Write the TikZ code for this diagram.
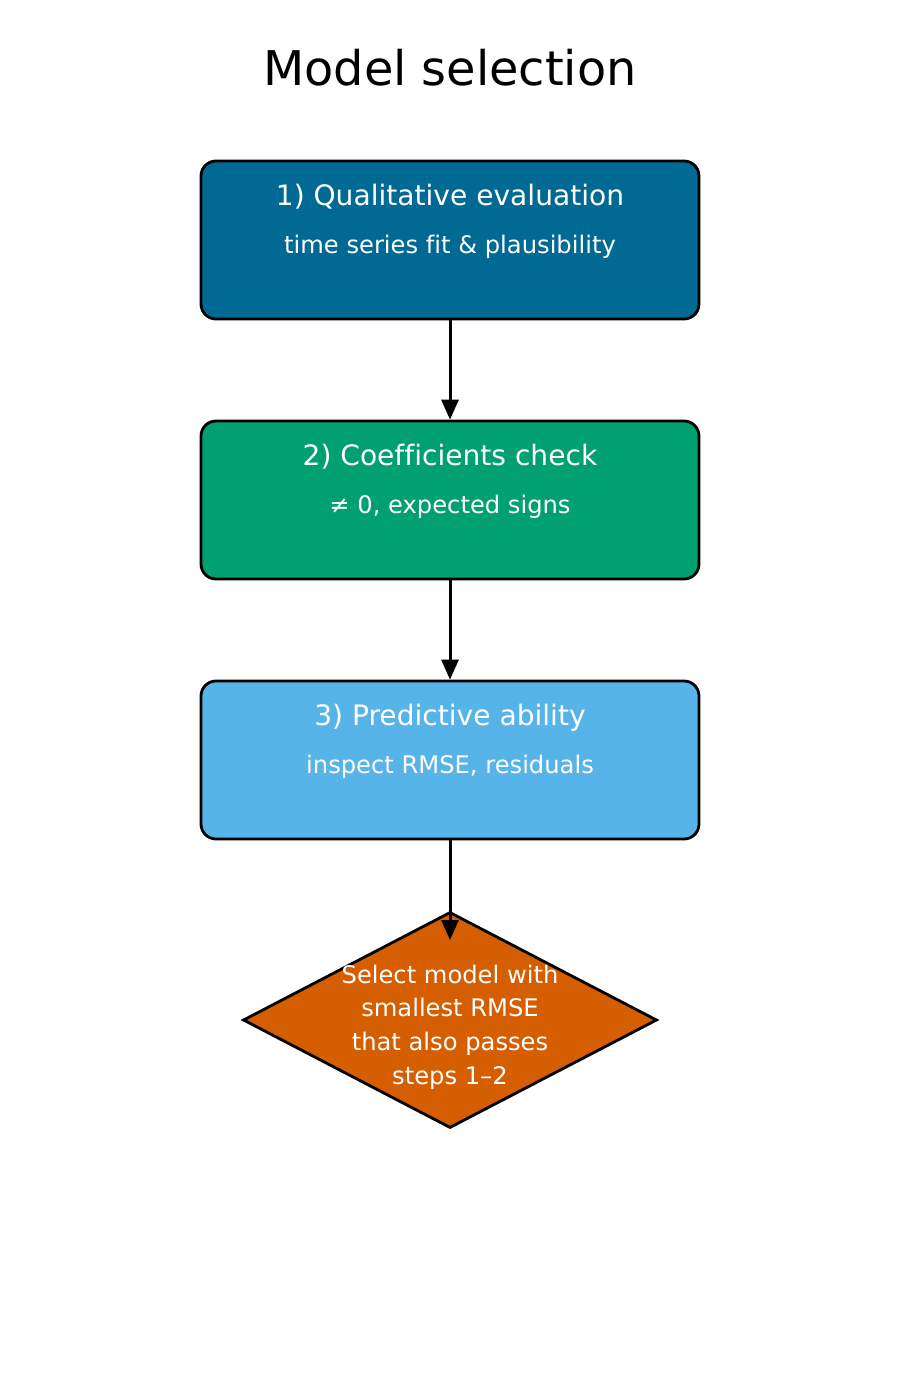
\documentclass[tikz,border=0pt]{standalone}
\usepackage{fontspec}
\setmainfont{DejaVu Sans}[Ligatures=CommonOff]
\usetikzlibrary{arrows.meta,shapes.geometric}
\definecolor{cA}{HTML}{006A95}
\definecolor{cB}{HTML}{00A070}
\definecolor{cC}{HTML}{56B4E9}
\definecolor{cD}{HTML}{D55E00}
\begin{document}
\begin{tikzpicture}[x=1pt,y=-1pt,
  stepbox/.style={draw=black,line width=2.8pt,rounded corners=15pt,minimum width=498pt,minimum height=158pt,inner sep=0pt},
  ttl/.style={text=white,font=\fontsize{28.1}{34}\selectfont,anchor=base,inner sep=0pt},
  sub/.style={text=white,font=\fontsize{24.2}{29}\selectfont,anchor=base,inner sep=0pt},
  conn/.style={line width=3pt,-{Triangle[length=20pt,width=17pt]}}]
\useasboundingbox (0,0) rectangle (900,1400);
\node[font=\fontsize{47.8}{56}\selectfont,anchor=base,inner sep=0pt] (title) at (450,85) {Model selection};

\node[stepbox,fill=cA] (b1) at (450,240) {};
\node[ttl] (t1) at (450,205.7) {1) Qualitative evaluation};
\node[sub] (s1) at (450,253) {time series fit \& plausibility};

\node[stepbox,fill=cB] (b2) at (450,500) {};
\node[ttl] (t2) at (450,465.7) {2) Coefficients check};
\node[sub] (s2) at (450,513) {≠ 0, expected signs};

\node[stepbox,fill=cC] (b3) at (450,760) {};
\node[ttl] (t3) at (450,725.7) {3) Predictive ability};
\node[sub] (s3) at (450,773) {inspect RMSE, residuals};

\node[diamond,draw=black,fill=cD,line width=2.8pt,minimum width=414pt,minimum height=216pt,inner sep=0pt] (dia) at (450,1020) {};
\node[sub] (d1) at (450,983.3) {Select model with};
\node[sub] (d2) at (450,1016.9) {smallest RMSE};
\node[sub] (d3) at (450,1050.8) {that also passes};
\node[sub] (d4) at (450,1084.7) {steps 1–2};

\coordinate (endD) at (450,940);
\draw[conn] (b1.south) -- (b2.north);
\draw[conn] (b2.south) -- (b3.north);
\draw[conn] (b3.south) -- (endD);
\end{tikzpicture}
\end{document}
